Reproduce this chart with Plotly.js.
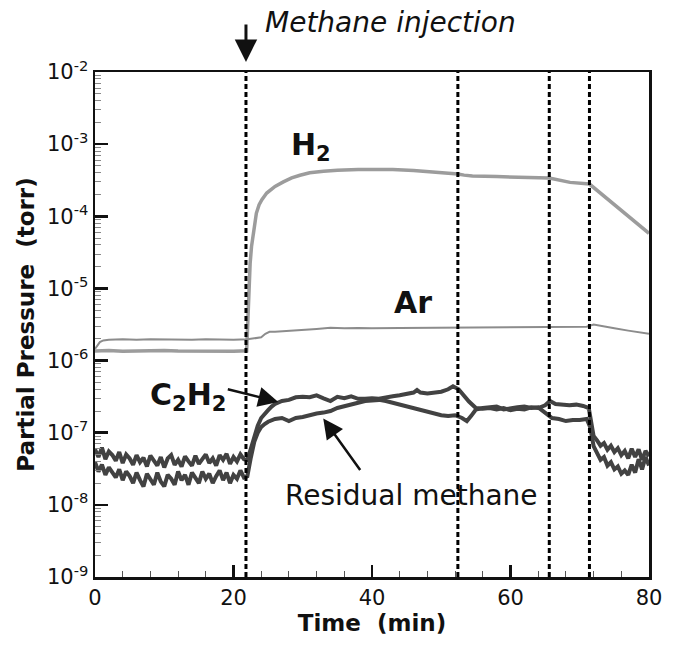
<!DOCTYPE html>
<html>
<head>
<meta charset="utf-8">
<script src="https://cdn.plot.ly/plotly-3.0.1.min.js"></script>
<style>html,body{margin:0;padding:0;background:#fff;}</style>
</head>
<body>
<div id="chart" style="width:675px;height:646px;"></div>
<script>
// ---- Data ----
const h2Time = [0,2,4,6,8,10,12,14,16,18,20,21.9,22.05,22.2,22.4,22.6,22.9,23.3,23.7,24.1,24.8,26,27.2,28.4,29.6,31,33,35,38,43,46,49,52.4,53.3,54.5,58,62.8,65.6,68.6,71.4,80];
const h2Pressure = [1.36e-6,1.38e-6,1.35e-6,1.37e-6,1.36e-6,1.38e-6,1.36e-6,1.35e-6,1.37e-6,1.36e-6,1.35e-6,1.37e-6,4e-6,1.2e-5,2.2e-5,3.8e-5,6e-5,1.1e-4,1.45e-4,1.7e-4,2.1e-4,2.6e-4,3.0e-4,3.4e-4,3.7e-4,4.0e-4,4.2e-4,4.35e-4,4.45e-4,4.45e-4,4.3e-4,4.1e-4,3.85e-4,3.72e-4,3.62e-4,3.55e-4,3.45e-4,3.4e-4,2.95e-4,2.8e-4,5.8e-5];

const arTime = [0,0.3,0.7,1.2,2,4,6,8,10,12,14,16,18,20,22,23,24,24.6,25.2,26,27,28,30,32,34,36,38,40,44,48,52,56,60,64,68,71,72,73,75,77,79,80];
const arPressure = [1.45e-6,1.6e-6,1.8e-6,1.9e-6,1.95e-6,1.97e-6,1.95e-6,1.98e-6,1.96e-6,1.97e-6,1.95e-6,1.98e-6,1.96e-6,1.95e-6,1.97e-6,2.03e-6,2.1e-6,2.35e-6,2.5e-6,2.5e-6,2.55e-6,2.6e-6,2.7e-6,2.75e-6,2.85e-6,2.8e-6,2.82e-6,2.8e-6,2.83e-6,2.85e-6,2.9e-6,2.88e-6,2.9e-6,2.95e-6,2.92e-6,2.95e-6,3.15e-6,3.05e-6,2.8e-6,2.6e-6,2.4e-6,2.35e-6];

const c2h2Time = [0,0.5,1,1.5,2,2.5,3,3.5,4,4.5,5,5.5,6,6.5,7,7.5,8,8.5,9,9.5,10,10.5,11,11.5,12,12.5,13,13.5,14,14.5,15,15.5,16,16.5,17,17.5,18,18.5,19,19.5,20,20.5,21,21.5,22,
  22.5,23,23.5,24,24.5,25,25.5,26,27,28,29,30,31,32,33,34,35,36,37,38,39,40,41,42,43,44,45,46,46.5,47,48,49,50,51,51.7,52.5,53.2,54,55,56,57,58,59,60,61,62,63,64,65,65.7,66.5,67.5,68.5,69.5,70.5,71.3,71.6,72,
  72.5,73,73.5,74,74.5,75,75.5,76,76.5,77,77.5,78,78.5,79,79.5,80];
const c2h2Pressure = [5.9e-8,4.6e-8,6.2e-8,4.3e-8,5.5e-8,4.9e-8,4.1e-8,5.4e-8,3.8e-8,5.0e-8,4.4e-8,3.6e-8,4.9e-8,3.9e-8,4.5e-8,3.4e-8,4.8e-8,4.2e-8,3.5e-8,4.6e-8,3.3e-8,4.4e-8,4.9e-8,3.6e-8,4.2e-8,3.4e-8,4.7e-8,4.0e-8,3.5e-8,4.8e-8,3.7e-8,4.3e-8,5.0e-8,3.8e-8,4.4e-8,3.5e-8,4.9e-8,4.2e-8,5.1e-8,3.7e-8,4.6e-8,4.0e-8,5.0e-8,4.3e-8,4.2e-8,
  6e-8,9e-8,1.25e-7,1.6e-7,1.85e-7,2.05e-7,2.3e-7,2.5e-7,2.75e-7,2.85e-7,3.1e-7,3.15e-7,3.1e-7,3.3e-7,3.0e-7,2.75e-7,3.15e-7,3.0e-7,3.2e-7,2.95e-7,2.95e-7,3.0e-7,2.95e-7,3.1e-7,3.2e-7,3.3e-7,3.4e-7,3.6e-7,3.9e-7,3.6e-7,3.5e-7,3.6e-7,3.7e-7,4.0e-7,4.4e-7,4.0e-7,3.3e-7,2.7e-7,2.2e-7,2.15e-7,2.2e-7,2.1e-7,2.2e-7,2.05e-7,2.15e-7,2.1e-7,2.25e-7,2.2e-7,2.4e-7,2.75e-7,2.5e-7,2.45e-7,2.4e-7,2.45e-7,2.35e-7,2.2e-7,1.4e-7,9e-8,
  7.8e-8,6.6e-8,7.2e-8,5.8e-8,6.6e-8,5.4e-8,6.1e-8,4.9e-8,5.6e-8,4.4e-8,6.0e-8,4.6e-8,5.9e-8,4.2e-8,5.6e-8,4.7e-8];

const methaneTime = [0,0.5,1,1.5,2,2.5,3,3.5,4,4.5,5,5.5,6,6.5,7,7.5,8,8.5,9,9.5,10,10.5,11,11.5,12,12.5,13,13.5,14,14.5,15,15.5,16,16.5,17,17.5,18,18.5,19,19.5,20,20.5,21,21.5,22,
  22.5,23,23.5,24,24.5,25,26,27,28,29,30,31,32,33,34,35,36,37,38,39,40,41,42,43,44,45,46,47,48,49,50,51,52,53,53.7,54.3,55,56,57,58,59,60,61,62,63,64,65,66,67,68,69,70,71,71.5,72,
  72.5,73,73.5,74,74.5,75,75.5,76,76.5,77,77.5,78,78.5,79,79.5,80];
const methanePressure = [3.9e-8,2.9e-8,3.6e-8,2.6e-8,3.3e-8,2.8e-8,2.4e-8,3.1e-8,2.2e-8,2.9e-8,2.5e-8,2.0e-8,2.8e-8,2.2e-8,1.8e-8,2.7e-8,2.3e-8,1.9e-8,2.8e-8,2.1e-8,1.8e-8,2.6e-8,2.3e-8,1.9e-8,2.9e-8,2.2e-8,2.6e-8,1.9e-8,2.8e-8,2.4e-8,2.0e-8,2.9e-8,2.3e-8,2.7e-8,2.0e-8,2.5e-8,3.0e-8,2.2e-8,2.8e-8,2.0e-8,2.6e-8,2.3e-8,3.0e-8,2.4e-8,2.5e-8,
  4.5e-8,7.5e-8,1.0e-7,1.2e-7,1.32e-7,1.42e-7,1.55e-7,1.6e-7,1.45e-7,1.6e-7,1.65e-7,1.75e-7,1.85e-7,1.9e-7,2.0e-7,2.2e-7,2.35e-7,2.45e-7,2.6e-7,2.75e-7,2.8e-7,2.85e-7,2.75e-7,2.6e-7,2.5e-7,2.35e-7,2.2e-7,2.05e-7,1.95e-7,1.85e-7,1.75e-7,1.7e-7,1.75e-7,1.6e-7,1.45e-7,1.7e-7,2.1e-7,2.2e-7,2.25e-7,2.3e-7,2.1e-7,2.2e-7,2.25e-7,2.3e-7,2.2e-7,2.25e-7,1.9e-7,1.6e-7,1.55e-7,1.45e-7,1.5e-7,1.5e-7,1.55e-7,1.2e-7,6.5e-8,
  5.2e-8,4.2e-8,4.6e-8,3.5e-8,3.9e-8,3.1e-8,3.4e-8,2.7e-8,3.0e-8,2.6e-8,3.6e-8,2.8e-8,4.3e-8,3.1e-8,4.6e-8,3.5e-8];

const eventTimes = [21.8, 52.4, 65.6, 71.4];
const xTickVals = [0,20,40,60,80];
const yTickVals = [1e-9,1e-8,1e-7,1e-6,1e-5,1e-4,1e-3,1e-2];
const yTickText = ['10<sup>-9</sup>','10<sup>-8</sup>','10<sup>-7</sup>','10<sup>-6</sup>','10<sup>-5</sup>','10<sup>-4</sup>','10<sup>-3</sup>','10<sup>-2</sup>'];

// ---- Plot ----
const FONT = 'DejaVu Sans';
const dark = '#424242';
const traces = [
  {x: h2Time, y: h2Pressure, mode: 'lines', line: {color: '#9c9c9c', width: 3.5}, name: 'H2'},
  {x: arTime, y: arPressure, mode: 'lines', line: {color: '#8c8c8c', width: 2}, name: 'Ar'},
  {x: methaneTime, y: methanePressure, mode: 'lines', line: {color: dark, width: 4}, name: 'Residual methane'},
  {x: c2h2Time, y: c2h2Pressure, mode: 'lines', line: {color: dark, width: 4}, name: 'C2H2'}
];

const shapes = eventTimes.map(t => ({
  type: 'line', xref: 'x', yref: 'paper', x0: t, x1: t, y0: 0, y1: 1,
  line: {color: '#000', width: 3, dash: '5px,3px'}
}));

const bold = {family: FONT, size: 30, color: '#111', weight: 'bold'};
const annotations = [
  {xref: 'x', yref: 'paper', x: eventTimes[0], y: 1.02, ax: 0, ay: -39, axref: 'pixel', ayref: 'pixel',
   showarrow: true, arrowhead: 2, arrowsize: 1.5, arrowwidth: 3, arrowcolor: '#111', text: ''},
  {xref: 'paper', yref: 'paper', x: 0.303, y: 1.099, xanchor: 'left', yanchor: 'middle', showarrow: false,
   text: 'Methane injection', font: {family: FONT, size: 28, color: '#111', style: 'italic'}},
  {xref: 'paper', yref: 'paper', x: (289-95)/554, y: (577-146)/505, xanchor: 'left', yanchor: 'middle', showarrow: false,
   text: 'H<sub>2</sub>', font: bold},
  {xref: 'paper', yref: 'paper', x: (392-95)/554, y: (577-302)/505, xanchor: 'left', yanchor: 'middle', showarrow: false,
   text: 'Ar', font: bold},
  {xref: 'paper', yref: 'paper', x: (148-95)/554, y: (577-396)/505, xanchor: 'left', yanchor: 'middle', showarrow: false,
   text: 'C<sub>2</sub>H<sub>2</sub>', font: bold},
  {xref: 'paper', yref: 'paper', x: (283-95)/554, y: (577-495)/505, xanchor: 'left', yanchor: 'middle', showarrow: false,
   text: 'Residual methane', font: {family: FONT, size: 28, color: '#111'}},
  {xref: 'x', yref: 'y', x: 26.47, y: -6.573, ax: -52, ay: -13, axref: 'pixel', ayref: 'pixel',
   showarrow: true, arrowhead: 2, arrowsize: 1.6, arrowwidth: 2.5, arrowcolor: '#111', text: ''},
  {xref: 'x', yref: 'y', x: 32.96, y: -6.803, ax: 38, ay: 53, axref: 'pixel', ayref: 'pixel',
   showarrow: true, arrowhead: 2, arrowsize: 1.6, arrowwidth: 2.5, arrowcolor: '#111', text: ''}
];

const layout = {
  width: 675, height: 646,
  margin: {l: 95, r: 26, t: 72, b: 69},
  paper_bgcolor: '#fff', plot_bgcolor: '#fff',
  showlegend: false,
  font: {family: FONT, color: '#111'},
  xaxis: {
    range: [0, 80], tickmode: 'array', tickvals: xTickVals,
    ticks: 'inside', ticklen: 12, tickwidth: 2.5, tickcolor: '#111',
    showline: true, linewidth: 2.5, linecolor: '#111', mirror: true,
    showgrid: false, zeroline: false,
    minor: {ticks: 'inside', ticklen: 6, tickwidth: 1, tickcolor: '#555', dtick: 4, tick0: 0, showgrid: false},
    tickfont: {family: FONT, size: 21, color: '#111'},
    title: {text: 'Time\u00a0\u00a0(min)', font: {family: FONT, size: 23, color: '#111', weight: 'bold'}, standoff: 5}
  },
  yaxis: {
    type: 'log', range: [-9, -2], tickmode: 'array', tickvals: yTickVals, ticktext: yTickText,
    ticks: 'inside', ticklen: 13, tickwidth: 2.5, tickcolor: '#111',
    showline: true, linewidth: 2.5, linecolor: '#111', mirror: true,
    showgrid: false, zeroline: false,
    minor: {ticks: 'inside', ticklen: 6, tickwidth: 1, tickcolor: '#888', dtick: 'D1', showgrid: false},
    tickfont: {family: FONT, size: 21, color: '#111'},
    title: {text: 'Partial Pressure\u00a0\u00a0(torr)', font: {family: FONT, size: 23, color: '#111', weight: 'bold'}, standoff: 6}
  },
  shapes: shapes,
  annotations: annotations
};

Plotly.newPlot('chart', traces, layout, {displayModeBar: false, staticPlot: true});
</script>
</body>
</html>
